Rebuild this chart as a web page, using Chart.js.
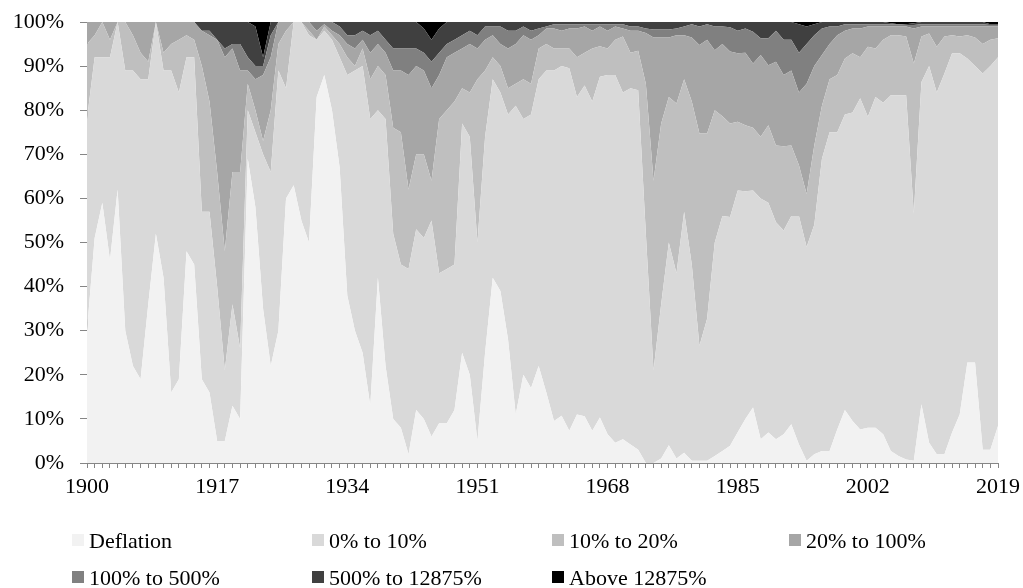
<!DOCTYPE html>
<html>
<head>
<meta charset="utf-8">
<script src="https://cdn.jsdelivr.net/npm/chart.js@4"></script>
<style>
  html, body { margin: 0; padding: 0; background: #fff; }
  #wrap { position: relative; width: 1023px; height: 588px; overflow: hidden; }
  #legend { position: absolute; left: 0; top: 0; width: 1023px; height: 588px;
    font-family: 'Liberation Serif', 'Times New Roman', serif; font-size: 22px; color: #000; }
  .txt { position: absolute; white-space: nowrap; line-height: 26px; }
  .box { position: absolute; width: 12px; height: 12px; }
</style>
</head>
<body>
<div id="wrap">
  <canvas id="c" width="1023" height="588"></canvas>
  <div id="legend"></div>
</div>
<script>
var years = [];
for (var y = 1900; y <= 2019; y++) years.push(String(y));

var seriesNames = ['Deflation', '0% to 10%', '10% to 20%', '20% to 100%',
  '100% to 500%', '500% to 12875%', 'Above 12875%'];
var seriesColors = ['#F2F2F2', '#D9D9D9', '#BFBFBF', '#A6A6A6', '#808080', '#404040', '#000000'];

// share of countries per inflation band, 1900..2019 (percent)
var deflation = [
  30, 51, 59, 46, 62, 30, 22, 19, 36, 52, 42, 16, 19, 48, 45, 19, 16, 5, 5, 13,
  10, 69, 58, 35, 22, 30, 60, 63, 55, 50, 83, 88, 80, 67, 38, 30, 25, 13, 42, 22,
  10, 8, 2, 12, 10, 6, 9, 9, 12, 25, 20, 5, 25, 42, 39, 28, 11, 20, 17, 22,
  16, 9.5, 10.7, 7.3, 11, 10.6, 7.3, 10.3, 6.5, 4.6, 5.4, 4.2, 3, 0, 0, 1, 4, 1, 2.3, 0.5,
  0.5, 0.5, 1.6, 2.7, 3.9, 7, 10, 12.6, 5.4, 6.9, 5.4, 6.5, 8.8, 4.2, 0.5, 2, 2.7, 2.7, 7.6, 12,
  9.5, 7.6, 8, 8, 6.5, 2.7, 1.6, 0.8, 0.5, 13.3, 4.6, 2, 2, 6.9, 11, 22.8, 22.8, 3, 3, 8.4
];
var pct0to10 = [
  48, 41, 33, 46, 38, 59, 67, 68, 51, 48, 47, 73, 65, 44, 47, 38, 41, 35, 16, 23,
  16, 11, 17, 35, 44, 59, 25, 37, 45, 47, 13, 10, 16, 25, 50, 59, 65, 65, 38, 56,
  42, 37, 42, 41, 41, 49, 34, 35, 33, 52, 54, 45, 49, 45, 45, 51, 70, 58, 62, 65,
  73, 79.5, 79.3, 82.2, 72, 75, 74.7, 77.3, 81.5, 83.4, 78.6, 80.8, 81.5, 52, 21, 35, 46, 42, 54.7, 44.5,
  26.1, 32.2, 48.4, 53.3, 51.9, 54.8, 51.6, 49.2, 54.6, 52.1, 49.2, 46.2, 47.2, 51.8, 48.5, 52, 66.3, 72.3, 67.4, 67,
  70, 75.1, 70.5, 75, 75.2, 80.7, 81.8, 82.6, 56, 73.1, 85.4, 82, 86.3, 86, 81.9, 68.9, 67.2, 85.3, 87, 83.6
];
var pct10to20 = [
  17, 5, 8, 4, 0, 11, 8, 6, 4, 0, 4, 6, 12, 5, 4, 33, 25, 26, 27, 30,
  40, 6, 5, 3, 14, 6, 13, 0, 0, 1, 0, 1, 1, 3, 4, 1, 4, 9, 10, 10,
  24, 30, 18, 17, 19, 9, 35, 36, 37, 8, 10, 37, 15, 5, 6, 6, 5, 9, 7, 7,
  6, 5, 4, 4.5, 9, 7.4, 12, 6.9, 6, 8, 12.7, 8, 9, 34, 43, 41, 33, 38.5, 30, 37,
  48.1, 42, 30, 22.6, 21.2, 15.6, 15, 14.2, 14, 17.6, 17.4, 19.1, 16, 11.5, 12, 18, 12, 12, 13, 12.7,
  13.4, 9.3, 15.9, 11, 14.3, 13.6, 13.6, 13.3, 34.1, 10.3, 7.4, 10.4, 8.4, 4.1, 3.8, 5.3, 6.5, 6.7, 6, 4.3
];
var pct20to100 = [
  5, 3, 0, 4, 0, 0, 3, 7, 9, 0, 7, 5, 4, 3, 4, 8, 15, 30, 44, 28,
  23, 3, 7, 15, 12, 5, 2, 0, 0, 2, 2, 0.5, 1, 2, 3, 4, 2, 6, 5, 5,
  13, 14, 26, 20, 19, 21, 10, 12, 11, 9, 11, 7, 7, 5, 5, 9, 9, 10, 10, 3,
  3.5, 4.5, 4, 4.5, 6.5, 6, 4, 4.5, 4, 3, 1.8, 5, 4.5, 11.5, 32.5, 19.5, 13.5, 15.5, 10, 14.5,
  20.1, 21.3, 13.6, 16.4, 16.3, 15.5, 16.4, 14.6, 18.5, 13.6, 19, 16.2, 17, 16.5, 25, 18, 11.5, 8, 9, 6.3,
  5.6, 6.5, 4.6, 5, 3, 2, 2, 2.3, 7.9, 2.3, 1.6, 4.6, 2.3, 2, 2.3, 2, 2.5, 4, 3, 2.7
];
var pct100to500 = [
  0, 0, 0, 0, 0, 0, 0, 0, 0, 0, 0, 0, 0, 0, 0, 0, 1, 0, 2, 1,
  6, 3, 3, 2, 5, 0, 0, 0, 0, 0, 2, 0.5, 2, 2, 2, 3, 2, 4, 3, 3,
  5, 5, 6, 4, 4, 6, 5, 3, 3, 3, 3, 3, 3, 2, 4, 4, 3, 2, 2, 1.5,
  0.5, 1, 1.5, 1, 1, 0.5, 1.5, 0.5, 1.5, 0.5, 1, 1, 1, 1, 1.8, 1.8, 1.8, 1.5, 2, 3,
  4.2, 3.5, 5.4, 4, 5.5, 5.1, 5.5, 7.2, 3.8, 6.1, 7, 8, 7, 9, 9, 7, 6, 4, 2, 1.5,
  1, 1, 0.5, 0.5, 0.5, 0.5, 0.5, 0.3, 0.8, 0.5, 0.5, 0.5, 0.5, 0.5, 0.5, 0.5, 0.5, 0.5, 0.3, 0.3
];
var pct500to12875 = [
  0, 0, 0, 0, 0, 0, 0, 0, 0, 0, 0, 0, 0, 0, 0, 2, 2, 4, 6, 5,
  5, 8, 9, 2, 3, 0, 0, 0, 0, 0, 0, 0, 0, 1, 3, 3, 2, 3, 2, 4,
  6, 6, 6, 6, 5.5, 5, 5.5, 5, 4, 3, 2, 3, 1, 1, 1, 2, 2, 1, 2, 1.5,
  1, 0.5, 0.5, 0.5, 0.5, 0.5, 0.5, 0.5, 0.5, 0.5, 0.5, 1, 1, 1.5, 1.7, 1.7, 1.7, 1.5, 1, 0.5,
  1, 0.5, 1, 1, 1.2, 2, 1.5, 2.2, 3.7, 3.7, 2, 4, 4, 6.5, 4, 2.5, 1.5, 1, 1, 0.5,
  0.5, 0.5, 0.5, 0.5, 0.5, 0.2, 0, 0.2, 0.4, 0.5, 0.5, 0.5, 0.5, 0.5, 0.5, 0.5, 0.5, 0.5, 0.2, 0.2
];
var above12875 = [
  0, 0, 0, 0, 0, 0, 0, 0, 0, 0, 0, 0, 0, 0, 0, 0, 0, 0, 0, 0,
  0, 0, 1, 8, 0, 0, 0, 0, 0, 0, 0, 0, 0, 0, 0, 0, 0, 0, 0, 0,
  0, 0, 0, 0, 1.5, 4, 1.5, 0, 0, 0, 0, 0, 0, 0, 0, 0, 0, 0, 0, 0,
  0, 0, 0, 0, 0, 0, 0, 0, 0, 0, 0, 0, 0, 0, 0, 0, 0, 0, 0, 0,
  0, 0, 0, 0, 0, 0, 0, 0, 0, 0, 0, 0, 0, 0.5, 1, 0.5, 0, 0, 0, 0,
  0, 0, 0, 0, 0, 0.3, 0.5, 0.5, 0.3, 0, 0, 0, 0, 0, 0, 0, 0, 0, 0.5, 0.5
];

var seriesData = [deflation, pct0to10, pct10to20, pct20to100, pct100to500, pct500to12875, above12875];
var FONT = "'Liberation Serif', 'Times New Roman', serif";
var AXIS = '#868686';

var datasets = seriesData.map(function(d, i) {
  return {
    label: seriesNames[i],
    data: d,
    backgroundColor: seriesColors[i],
    borderColor: seriesColors[i],
    borderWidth: 0,
    pointRadius: 0,
    tension: 0,
    fill: i === 0 ? 'origin' : '-1'
  };
});

function noPad(s) {
  s.paddingTop = 0; s.paddingBottom = 0;
  s.paddingLeft = 0; s.paddingRight = 0;
}

new Chart(document.getElementById('c'), {
  type: 'line',
  data: { labels: years, datasets: datasets },
  options: {
    responsive: false,
    animation: false,
    layout: { padding: { left: 0, right: 25, top: 22, bottom: 85 } },
    plugins: { legend: { display: false }, tooltip: { enabled: false } },
    scales: {
      x: {
        offset: false,
        border: { color: AXIS, width: 1 },
        grid: { display: true, drawOnChartArea: false, drawTicks: true, tickLength: 5, color: AXIS },
        ticks: {
          autoSkip: false, maxRotation: 0, padding: 6, color: '#000',
          font: { family: FONT, size: 22 },
          callback: function(v, i) { return i % 17 === 0 ? years[i] : ''; }
        },
        afterFit: function(s) { s.height = 40; noPad(s); }
      },
      y: {
        stacked: true, min: 0, max: 100,
        border: { color: AXIS, width: 1 },
        grid: { display: true, drawOnChartArea: false, drawTicks: true, tickLength: 7, color: AXIS },
        ticks: {
          stepSize: 10, padding: 16, color: '#000',
          font: { family: FONT, size: 22 },
          callback: function(v) { return v + '%'; }
        },
        afterFit: function(s) { s.width = 87; noPad(s); }
      }
    }
  }
});

// legend in four fixed columns, two rows
var lg = document.getElementById('legend');
var colX = [72, 312, 552, 789];
var rowY = [528, 565];
seriesNames.forEach(function(name, i) {
  var x = colX[i % 4], top = rowY[i < 4 ? 0 : 1];
  var b = document.createElement('div');
  b.className = 'box';
  b.style.left = x + 'px';
  b.style.top = (top + 6) + 'px';
  b.style.background = seriesColors[i];
  lg.appendChild(b);
  var t = document.createElement('div');
  t.className = 'txt';
  t.style.left = (x + 17) + 'px';
  t.style.top = top + 'px';
  t.textContent = name;
  lg.appendChild(t);
});
</script>
</body>
</html>
